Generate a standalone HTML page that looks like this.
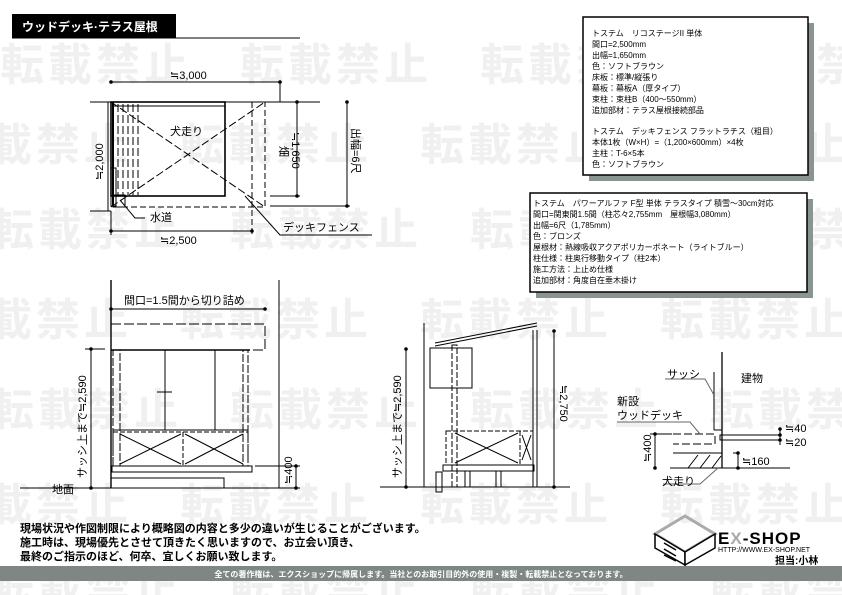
<!DOCTYPE html>
<html><head><meta charset="utf-8"><style>
html,body{margin:0;padding:0;background:#fff;}
svg{display:block;font-family:"Liberation Sans","Noto Sans CJK JP",sans-serif;}
.wm{font-size:44px;font-weight:bold;fill:#f0f0f0;letter-spacing:4px;}
.t{font-size:11px;fill:#000;}
.s{font-size:8px;fill:#000;}
</style></head><body>
<svg width="842" height="595" viewBox="0 0 842 595" xmlns="http://www.w3.org/2000/svg">
<rect width="842" height="595" fill="#fff"/>
<g class="wm">
<text x="0" y="80">転載禁止　転載禁止　転載禁止　転載禁止</text>
<text x="-60" y="160">転載禁止　転載禁止　転載禁止　転載禁止</text>
<text x="-10" y="245">転載禁止　転載禁止　転載禁止　転載禁止</text>
<text x="-60" y="335">転載禁止　転載禁止　転載禁止　転載禁止</text>
<text x="-10" y="425">転載禁止　転載禁止　転載禁止　転載禁止</text>
<text x="-60" y="520">転載禁止　転載禁止　転載禁止　転載禁止</text>
<text x="-10" y="605">転載禁止　転載禁止　転載禁止　転載禁止</text>
</g>
<rect x="12" y="14" width="164" height="24" fill="#000"/>
<text x="22" y="31" font-size="12" font-weight="bold" fill="#fff">ウッドデッキ·テラス屋根</text>
<line x1="12" y1="38" x2="300" y2="38" stroke="#000" stroke-width="1"/>

<rect x="589" y="23" width="225" height="158" fill="#8a9490"/>
<rect x="583" y="17" width="225" height="158" fill="#fff" stroke="#000" stroke-width="1.5"/>
<g class="s">
<text x="592" y="36">トステム　リコステージII 単体</text>
<text x="592" y="47">間口=2,500mm</text>
<text x="592" y="58">出幅=1,650mm</text>
<text x="592" y="69">色：ソフトブラウン</text>
<text x="592" y="80">床板：標準/縦張り</text>
<text x="592" y="91">幕板：幕板A（厚タイプ）</text>
<text x="592" y="102">束柱：束柱B（400～550mm）</text>
<text x="592" y="113">追加部材：テラス屋根接続部品</text>
<text x="592" y="134">トステム　デッキフェンス フラットラチス（粗目）</text>
<text x="592" y="145">本体1枚（W×H）=（1,200×600mm）×4枚</text>
<text x="592" y="156">主柱：T-6×5本</text>
<text x="592" y="167">色：ソフトブラウン</text>
</g>
<rect x="536" y="199" width="277" height="99" fill="#8a9490"/>
<rect x="530" y="193" width="277" height="99" fill="#fff" stroke="#000" stroke-width="1.5"/>
<g class="s">
<text x="533" y="206">トステム　パワーアルファ F型 単体 テラスタイプ 積雪～30cm対応</text>
<text x="533" y="217">間口=関東間1.5間（柱芯々2,755mm　屋根幅3,080mm）</text>
<text x="533" y="228">出幅=6尺（1,785mm）</text>
<text x="533" y="239">色：ブロンズ</text>
<text x="533" y="250">屋根材：熱線吸収アクアポリカーボネート（ライトブルー）</text>
<text x="533" y="261">柱仕様：柱奥行移動タイプ（柱2本）</text>
<text x="533" y="272">施工方法：上止め仕様</text>
<text x="533" y="283">追加部材：角度自在垂木掛け</text>
</g>

<g stroke="#000" fill="none" stroke-width="1">
<line x1="111" y1="82" x2="280" y2="82"/>
<line x1="280" y1="82" x2="280" y2="102"/>
<line x1="90" y1="102" x2="280" y2="102"/>
<rect x="111" y="102" width="114" height="94" stroke-width="1.6"/>
<line x1="113" y1="102" x2="113" y2="206" stroke-width="2"/>
<path d="M111 102 H265 V207 H111" stroke-dasharray="6,3"/>
<line x1="252" y1="102" x2="252" y2="235" stroke-dasharray="6,3"/>
<line x1="111" y1="102" x2="265" y2="207" stroke-dasharray="8,3"/>
<line x1="111" y1="207" x2="265" y2="102" stroke-dasharray="8,3"/>
<line x1="118" y1="104" x2="118" y2="195" stroke-dasharray="8,3"/>
<line x1="123" y1="104" x2="123" y2="195" stroke-dasharray="8,3"/>
<line x1="128" y1="104" x2="128" y2="195" stroke-dasharray="8,3"/>
<line x1="133" y1="104" x2="133" y2="195" stroke-dasharray="8,3"/>
<line x1="138" y1="104" x2="138" y2="195" stroke-dasharray="8,3"/>
<rect x="113" y="102" width="112" height="4"/>
<rect x="111" y="168" width="5" height="38"/>
<rect x="113" y="195" width="12" height="12"/>
<line x1="90" y1="211" x2="111" y2="211"/>
<line x1="111" y1="211" x2="111" y2="235"/>
<line x1="111" y1="231" x2="252" y2="231"/>
<line x1="297" y1="102" x2="297" y2="196"/>
<line x1="275" y1="102" x2="320" y2="102"/>
<line x1="270" y1="196" x2="300" y2="196"/>
<line x1="347" y1="102" x2="347" y2="206"/>
<line x1="270" y1="206" x2="350" y2="206"/>
<line x1="108" y1="102" x2="108" y2="211"/>
<polyline points="120,200 135,218 145,218"/>
<polyline points="245,196 280,235 372,235"/>
</g>
<g fill="#000">
<circle cx="111" cy="82" r="1.8"/><circle cx="280" cy="82" r="1.8"/>
<circle cx="111" cy="231" r="1.8"/><circle cx="252" cy="231" r="1.8"/>
<circle cx="297" cy="102" r="1.8"/><circle cx="297" cy="196" r="1.8"/>
<circle cx="347" cy="102" r="1.8"/><circle cx="347" cy="206" r="1.8"/>
</g>
<text x="170" y="79" class="t">≒3,000</text>
<text x="170" y="135" class="t">犬走り</text>
<text x="150" y="221" class="t">水道</text>
<text x="160" y="244" class="t">≒2,500</text>
<text x="283" y="231" class="t">デッキフェンス</text>
<text x="0" y="0" class="t" transform="translate(280,146) rotate(90)">畑</text>
<text x="0" y="0" class="t" transform="translate(292,132) rotate(90)">≒1,650</text>
<text x="0" y="0" class="t" transform="translate(352,128) rotate(90)">出幅=6尺</text>
<text x="0" y="0" class="t" transform="translate(103,180) rotate(-90)">≒2,000</text>

<g stroke="#000" fill="none" stroke-width="1">
<line x1="111" y1="280" x2="111" y2="488" stroke-width="1.4"/>
<line x1="279" y1="280" x2="279" y2="488"/>
<line x1="111" y1="309" x2="265" y2="309"/>
<rect x="111" y="324" width="154" height="26" stroke-dasharray="10,3"/>
<line x1="111" y1="350" x2="250" y2="350" stroke-width="1.4"/>
<rect x="113" y="350" width="7" height="116" stroke-dasharray="8,2"/>
<rect x="243" y="350" width="5" height="116" stroke-dasharray="8,2"/>
<line x1="165" y1="350" x2="165" y2="430"/>
<line x1="215" y1="350" x2="215" y2="430"/>
<line x1="113" y1="430" x2="248" y2="430"/>
<rect x="113" y="432" width="135" height="34" stroke-dasharray="5,2"/>
<line x1="183" y1="432" x2="183" y2="466" stroke-dasharray="5,2"/>
<line x1="120" y1="434" x2="181" y2="464"/><line x1="120" y1="464" x2="181" y2="434"/>
<line x1="185" y1="434" x2="243" y2="464"/><line x1="185" y1="464" x2="243" y2="434"/>
<rect x="112" y="466" width="140" height="6"/>
<rect x="111" y="478" width="113" height="10"/>
<line x1="20" y1="488" x2="300" y2="488"/>
<line x1="91" y1="349" x2="91" y2="488"/>
<line x1="85" y1="349" x2="105" y2="349"/>
<line x1="296" y1="466" x2="296" y2="488"/>
<line x1="255" y1="466" x2="300" y2="466"/>
<line x1="157" y1="392" x2="172" y2="392"/>
</g>
<g fill="#000">
<circle cx="111" cy="309" r="1.8"/><circle cx="265" cy="309" r="1.8"/>
<circle cx="91" cy="349" r="1.8"/><circle cx="91" cy="488" r="1.8"/>
<circle cx="296" cy="466" r="1.8"/><circle cx="296" cy="488" r="1.8"/>
</g>
<text x="124" y="304" class="t">間口=1.5間から切り詰め</text>
<text x="52" y="493" class="t">地面</text>
<text x="0" y="0" class="t" transform="translate(86,478) rotate(-90)">サッシ上まで≒2,590</text>
<text x="0" y="0" class="t" transform="translate(292,484) rotate(-90)">≒400</text>

<g stroke="#000" fill="none" stroke-width="1">
<line x1="424" y1="323" x2="424" y2="487"/>
<line x1="380" y1="487" x2="570" y2="487"/>
<line x1="435" y1="343" x2="537" y2="323"/>
<line x1="435" y1="346" x2="537" y2="326"/>
<line x1="533" y1="330" x2="533" y2="487"/>
<line x1="537" y1="330" x2="537" y2="487"/>
<rect x="430" y="348" width="42" height="40"/>
<rect x="452" y="345" width="5" height="142" stroke-dasharray="6,2"/>
<rect x="446" y="431" width="87" height="34" stroke-dasharray="5,2"/>
<line x1="520" y1="431" x2="520" y2="465" stroke-dasharray="5,2"/>
<line x1="455" y1="433" x2="518" y2="463"/><line x1="455" y1="463" x2="518" y2="433"/>
<line x1="522" y1="435" x2="531" y2="460"/><line x1="522" y1="460" x2="531" y2="435"/>
<rect x="443" y="465" width="91" height="6"/>
<rect x="436" y="472" width="6" height="20"/>
<rect x="465" y="471" width="5" height="16"/>
<rect x="496" y="471" width="5" height="16"/>
<line x1="406" y1="349" x2="406" y2="487"/>
<line x1="554" y1="331" x2="554" y2="487"/>
</g>
<g fill="#000">
<circle cx="406" cy="349" r="1.8"/><circle cx="406" cy="487" r="1.8"/>
<circle cx="554" cy="331" r="1.8"/><circle cx="554" cy="487" r="1.8"/>
</g>
<text x="0" y="0" class="t" transform="translate(401,478) rotate(-90)">サッシ上まで≒2,590</text>
<text x="0" y="0" class="t" transform="translate(560,385) rotate(90)">≒2,750</text>

<g stroke="#000" fill="none" stroke-width="1">
<line x1="722" y1="352" x2="722" y2="468" stroke-width="1.3"/>
<line x1="714" y1="372" x2="714" y2="430"/>
<line x1="714" y1="430" x2="722" y2="430"/>
<rect x="720" y="435" width="60" height="5"/>
<path d="M673 434 H715 V444 H673" stroke-dasharray="8,3"/>
<line x1="673" y1="453" x2="722" y2="453"/>
<line x1="670" y1="468" x2="790" y2="468"/>
<path d="M688 468 L698 455 M700 468 L710 455 M712 468 L721 456" />
<line x1="655" y1="434" x2="655" y2="468"/>
<line x1="650" y1="434" x2="672" y2="434"/>
<line x1="733" y1="453" x2="738" y2="453"/>
<line x1="738" y1="453" x2="738" y2="468"/>
<line x1="780" y1="428" x2="780" y2="445"/>
<polyline points="665,379 705,379 714,395" stroke="#666"/>
<polyline points="617,422 690,422 700,434" stroke="#666"/>
<polyline points="663,484 700,484 718,468" stroke="#666"/>
</g>
<g fill="#000">
<circle cx="655" cy="434" r="1.8"/><circle cx="655" cy="468" r="1.8"/>
<circle cx="738" cy="453" r="1.8"/><circle cx="738" cy="468" r="1.8"/>
<circle cx="780" cy="429" r="1.8"/><circle cx="780" cy="435" r="1.8"/><circle cx="780" cy="440" r="1.8"/>
</g>
<text x="667" y="378" class="t">サッシ</text>
<text x="741" y="382" class="t">建物</text>
<text x="617" y="405" class="t">新設</text>
<text x="617" y="419" class="t">ウッドデッキ</text>
<text x="785" y="432" class="t">≒40</text>
<text x="785" y="446" class="t">≒20</text>
<text x="742" y="465" class="t">≒160</text>
<text x="662" y="485" class="t">犬走り</text>
<text x="0" y="0" class="t" transform="translate(651,462) rotate(-90)">≒400</text>

<g font-size="11" font-weight="bold" fill="#000">
<text x="20" y="532">現場状況や作図制限により概略図の内容と多少の違いが生じることがございます。</text>
<text x="20" y="546">施工時は、現場優先とさせて頂きたく思いますので、お立会い頂き、</text>
<text x="20" y="560">最終のご指示のほど、何卒、宜しくお願い致します。</text>
</g>
<g stroke="#000" fill="none" stroke-width="1.5">
<polygon points="685,516 715,534 685,552 655,534" stroke="#aaa" stroke-width="3"/>
<polygon points="655,534 685,552 685,565 655,548" fill="#fff"/>
<polygon points="715,534 685,552 685,565 715,548" fill="#fff"/>
<path d="M664 543 L676 550 M664 549 L676 556 M664 555 L676 561" />
</g>
<text x="718" y="544" font-size="17" font-weight="bold" fill="#000" letter-spacing="1">E<tspan fill="#aaa">X</tspan>-SHOP</text>
<text x="718" y="552" font-size="7" fill="#000">HTTP://WWW.EX-SHOP.NET</text>
<text x="775" y="564" font-size="10" font-weight="bold" fill="#000">担当:小林</text>
<rect x="0" y="566" width="842" height="15" fill="#7f8784"/>
<text x="421" y="577" font-size="8" font-weight="bold" fill="#fff" text-anchor="middle">全ての著作権は、エクスショップに帰属します。当社とのお取引目的外の使用・複製・転載禁止となっております。</text>
</svg>
</body></html>
